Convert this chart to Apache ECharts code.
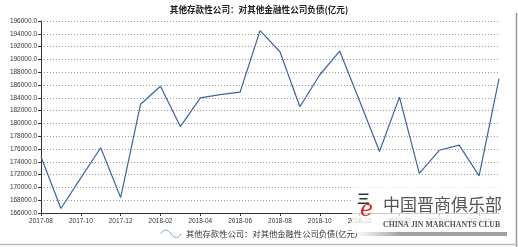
<!DOCTYPE html>
<html>
<head>
<meta charset="utf-8">
<script src="https://cdn.jsdelivr.net/npm/echarts@6/dist/echarts.min.js"></script>
<style>html,body{margin:0;padding:0;background:#fff}#c{width:518px;height:247px}</style>
</head>
<body>
<div id="c"></div>
<script>
const titleText = '其他存款性公司：对其他金融性公司负债(亿元)';
const seriesName = '其他存款性公司：对其他金融性公司负债(亿元)';
const months = ['2017-08','2017-09','2017-10','2017-11','2017-12','2018-01','2018-02','2018-03','2018-04','2018-05','2018-06','2018-07','2018-08','2018-09','2018-10','2018-11','2018-12','2019-01','2019-02','2019-03','2019-04','2019-05','2019-06','2019-07'];
const values = [174800,166700,171500,176200,168400,183000,185800,179500,184000,184500,184900,194500,191200,182600,187600,191300,183500,175600,184100,172200,175800,176600,171800,187000];
const yMin = 166000, yMax = 196000, yStep = 2000;

const chart = echarts.init(document.getElementById('c'));
chart.setOption({
  animation: false,
  title: {
    text: titleText, left: 'center', top: 0,
    textStyle: {fontSize: 8.6, fontWeight: 'bold', color: '#222', fontFamily: 'Noto Sans CJK SC'}
  },
  legend: {
    bottom: 4, left: 'center', itemWidth: 20, itemHeight: 8, itemGap: 4,
    icon: 'path://M0,5 C3,0 6,0 10,5 C14,10 17,10 20,5',
    textStyle: {fontSize: 8.3, color: '#333', fontFamily: 'Noto Sans CJK SC'},
    data: [{name: seriesName, itemStyle: {color: 'transparent', borderColor: '#7a9cc8', borderWidth: 1}}]
  },
  grid: {left: 41, right: 19, top: 21, bottom: 34},
  xAxis: {
    type: 'category', data: months, boundaryGap: false,
    axisLine: {lineStyle: {color: '#333', width: 1}},
    axisTick: {interval: 1, length: 3, lineStyle: {color: '#333'}},
    axisLabel: {interval: 1, fontSize: 6.5, color: '#333', margin: 5, fontFamily: 'Liberation Sans'},
    splitLine: {show: false}
  },
  yAxis: {
    type: 'value', min: yMin, max: yMax, interval: yStep,
    axisLine: {show: true, lineStyle: {color: '#333', width: 1}},
    axisTick: {show: true, length: 3, lineStyle: {color: '#333'}},
    axisLabel: {fontSize: 6.5, color: '#333', margin: 4, fontFamily: 'Liberation Sans', formatter: v => v.toFixed(1)},
    splitLine: {lineStyle: {color: '#999', type: [1, 2], width: 1}}
  },
  series: [{
    name: seriesName, type: 'line', data: values, showSymbol: false, symbol: 'none',
    lineStyle: {color: '#3d64a0', width: 1.2}, itemStyle: {color: '#3d64a0'}
  }],
  graphic: [
    {type: 'rect', shape: {x: 352, y: 186, width: 158, height: 47}, style: {fill: 'rgba(255,255,255,0.75)'}, z: 50},
    {type: 'rect', shape: {x: 355, y: 232, width: 152, height: 4}, style: {fill: {type: 'linear', x: 0, y: 0, x2: 1, y2: 0, colorStops: [{offset: 0, color: 'rgba(160,160,160,0)'}, {offset: 0.3, color: 'rgba(150,150,150,0.9)'}, {offset: 1, color: 'rgba(150,150,150,0.9)'}]}}, z: 51},
    {type: 'text', left: 357, top: 192, style: {text: '三', fontSize: 13, fill: '#333', fontFamily: 'Noto Sans CJK SC', fontWeight: 'bold'}, z: 52},
    {type: 'text', left: 360, top: 199, style: {text: 'e', fontSize: 22, fill: '#cc2a2a', fontFamily: 'DejaVu Serif', fontStyle: 'italic'}, z: 52},
    {type: 'text', left: 383, top: 196, style: {text: '中国晋商俱乐部', fontSize: 17, fill: '#555', fontFamily: 'Noto Sans CJK SC'}, z: 52},
    {type: 'text', left: 383, top: 221, style: {text: 'CHINA JIN MARCHANTS CLUB', fontSize: 7.8, fill: '#555', fontFamily: 'Liberation Serif', fontWeight: 'bold'}, z: 52},
    {type: 'line', shape: {x1: 516.5, y1: 13, x2: 516.5, y2: 247}, style: {stroke: '#999', lineWidth: 1.5}, z: 52},
    {type: 'line', shape: {x1: 0, y1: 244.5, x2: 518, y2: 244.5}, style: {stroke: '#bbb', lineWidth: 1.5}, z: 52}
  ]
});
</script>
</body>
</html>
